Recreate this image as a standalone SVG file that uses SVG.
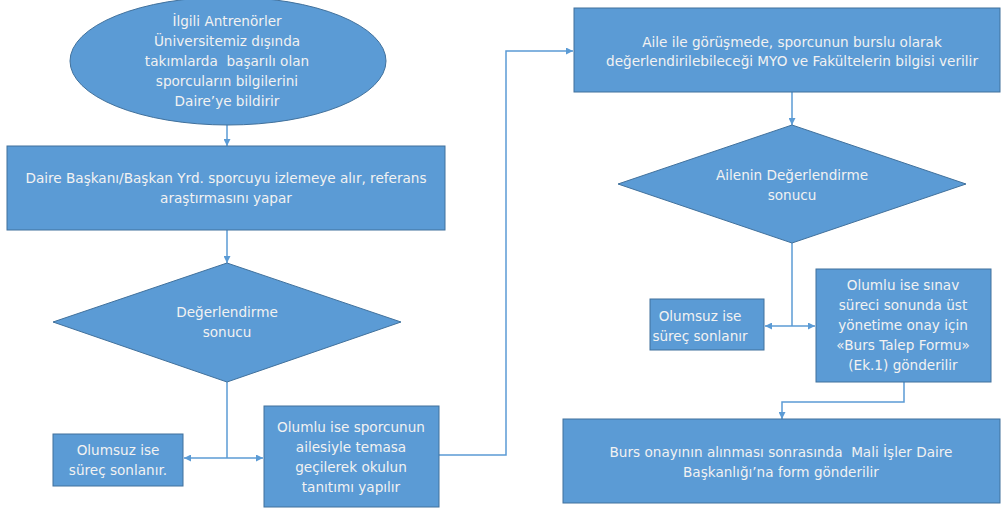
<svg xmlns="http://www.w3.org/2000/svg" width="1003" height="510" viewBox="0 0 1003 510">
  <defs>
    <marker id="arrow" viewBox="0 0 10 10" refX="10" refY="5" markerWidth="7" markerHeight="7" markerUnits="userSpaceOnUse" orient="auto">
      <path d="M0,0 L10,5 L0,10 z" fill="#5B9BD5"/>
    </marker>
    <style>
      .shape { fill: #5B9BD5; stroke: #41719C; stroke-width: 1; }
      .label { font-family: "DejaVu Sans", Verdana, sans-serif; font-size: 13.6px; fill: #F2F2F2; text-anchor: middle; }
      .conn { fill: none; stroke: #5B9BD5; stroke-width: 1.5; }
      .conn-arrow { fill: none; stroke: #5B9BD5; stroke-width: 1.5; marker-end: url(#arrow); }
    </style>
  </defs>
  <rect width="1003" height="510" fill="#FFFFFF"/>

  <!-- connectors -->
  <g id="connectors">
    <path class="conn-arrow" d="M227,125 L227,146"/>
    <path class="conn-arrow" d="M227,230 L227,263"/>
    <path class="conn" d="M227,382 L227,458"/>
    <path class="conn-arrow" d="M227,458 L184,458"/>
    <path class="conn-arrow" d="M227,458 L263,458"/>
    <path class="conn-arrow" d="M439,455 L506,455 L506,51 L573,51"/>
    <path class="conn-arrow" d="M792,92 L792,125"/>
    <path class="conn" d="M792,243 L792,326"/>
    <path class="conn-arrow" d="M792,326 L765,326"/>
    <path class="conn-arrow" d="M792,326 L815,326"/>
    <path class="conn-arrow" d="M904,382 L904,402 L782,402 L782,419"/>
  </g>

  <!-- start: coaches report -->
  <g id="start">
    <ellipse class="shape" cx="228" cy="61" rx="158" ry="64"/>
    <text class="label" x="227" y="26">İlgili Antrenörler</text>
    <text class="label" x="227" y="46">Üniversitemiz dışında</text>
    <text class="label" x="227" y="66">takımlarda&#160; başarılı olan</text>
    <text class="label" x="227" y="86">sporcuların bilgilerini</text>
    <text class="label" x="227" y="106">Daire’ye bildirir</text>
  </g>

  <g id="monitor">
    <rect class="shape" x="7" y="146" width="438" height="84"/>
    <text class="label" x="226" y="183">Daire Başkanı/Başkan Yrd. sporcuyu izlemeye alır, referans</text>
    <text class="label" x="226" y="203">araştırmasını yapar</text>
  </g>

  <g id="decision1">
    <polygon class="shape" points="227,263 401,322 227,382 53,322"/>
    <text class="label" x="227" y="317">Değerlendirme</text>
    <text class="label" x="227" y="337">sonucu</text>
  </g>

  <g id="negative1">
    <rect class="shape" x="53" y="434" width="130" height="52"/>
    <text class="label" x="118" y="455">Olumsuz ise</text>
    <text class="label" x="118" y="475">süreç sonlanır.</text>
  </g>

  <g id="positive1">
    <rect class="shape" x="264" y="406" width="175" height="101"/>
    <text class="label" x="351" y="432">Olumlu ise sporcunun</text>
    <text class="label" x="351" y="452">ailesiyle temasa</text>
    <text class="label" x="351" y="472">geçilerek okulun</text>
    <text class="label" x="351" y="492">tanıtımı yapılır</text>
  </g>

  <g id="family-meeting">
    <rect class="shape" x="574" y="8" width="426" height="84"/>
    <text class="label" x="792" y="47">Aile ile görüşmede, sporcunun burslu olarak</text>
    <text class="label" x="792" y="66">değerlendirilebileceği MYO ve Fakültelerin bilgisi verilir</text>
  </g>

  <g id="decision2">
    <polygon class="shape" points="792,125 966,184 792,243 618,184"/>
    <text class="label" x="792" y="180">Ailenin Değerlendirme</text>
    <text class="label" x="792" y="200">sonucu</text>
  </g>

  <g id="negative2">
    <rect class="shape" x="650" y="299" width="114" height="51"/>
    <text class="label" x="700" y="321">Olumsuz ise</text>
    <text class="label" x="700" y="341">süreç sonlanır</text>
  </g>

  <g id="positive2">
    <rect class="shape" x="816" y="269" width="175" height="113"/>
    <text class="label" x="903" y="290">Olumlu ise sınav</text>
    <text class="label" x="903" y="310">süreci sonunda üst</text>
    <text class="label" x="903" y="330">yönetime onay için</text>
    <text class="label" x="903" y="350">«Burs Talep Formu»</text>
    <text class="label" x="903" y="370">(Ek.1) gönderilir</text>
  </g>

  <g id="finance">
    <rect class="shape" x="563" y="419" width="437" height="84"/>
    <text class="label" x="781" y="457">Burs onayının alınması sonrasında&#160; Mali İşler Daire</text>
    <text class="label" x="781" y="477">Başkanlığı’na form gönderilir</text>
  </g>
</svg>
